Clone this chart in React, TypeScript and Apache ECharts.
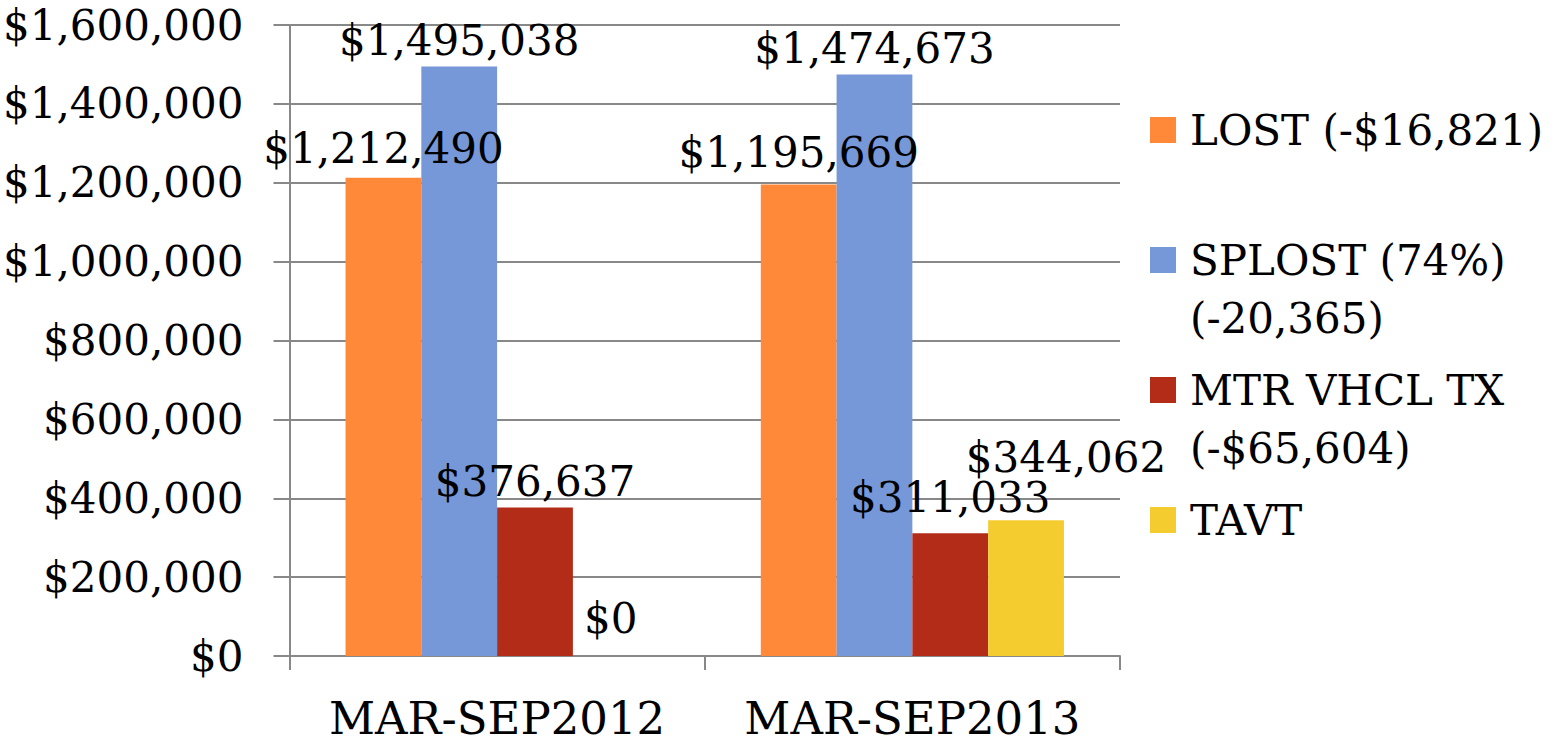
import React, { useEffect, useRef } from "react";
import * as echarts from "echarts";

const categories = ["MAR-SEP2012", "MAR-SEP2013"];
const seriesNames = ["LOST", "SPLOST", "MTR VHCL TX", "TAVT"];
const legendLabels = [
  "LOST (-$16,821)",
  "\nSPLOST (74%)\n(-20,365)",
  "\nMTR VHCL TX\n(-$65,604)",
  "TAVT",
];
const lostValues = [1212490, 1195669];
const splostValues = [1495038, 1474673];
const mtrValues = [376637, 311033];
const tavtValues = [0, 344062];
const yTicks = { min: 0, max: 1600000, interval: 200000 };

const colors = ["#FF8938", "#7698D8", "#B22C17", "#F4CC30"];
const FONT = "DejaVu Serif";
const FS = 42;

const money = (v: number) => "$" + Number(v).toLocaleString("en-US");

export default function App() {
  const ref = useRef<HTMLDivElement>(null);
  useEffect(() => {
    if (!ref.current) return;
    const chart = echarts.init(ref.current, null, { renderer: "svg" });
    const labelBase = {
      show: true,
      position: "top",
      distance: 5,
      fontFamily: FONT,
      fontSize: FS,
      color: "#000",
      formatter: (p: any) => money(p.value),
    };
    const allValues = [lostValues, splostValues, mtrValues, tavtValues];
    const offsets: number[][][] = [
      [[0, -3], [0, -6]],
      [[0, 0], [0, 0]],
      [[0, 0], [0, -10]],
      [[0, -12], [40, -37]],
    ];
    const series = allValues.map((vals, si) => ({
      name: seriesNames[si],
      type: "bar",
      barGap: "0%",
      barCategoryGap: "27%",
      itemStyle: { color: colors[si] },
      label: labelBase,
      data: vals.map((v, i) => ({
        value: v,
        label: { offset: offsets[si][i] },
      })),
    }));
    const legendCenters = [130, 260, 390, 520];
    const legends = seriesNames.map((n, i) => {
      const lines = legendLabels[i].split("\n").length;
      return {
        data: [n],
        orient: "vertical",
        left: 1150,
        top: legendCenters[i] - (lines * 58) / 2,
        padding: 0,
        itemWidth: 26,
        itemHeight: 26,
        icon: "rect",
        selectedMode: false,
        formatter: () => legendLabels[i],
        textStyle: {
          fontFamily: FONT,
          fontSize: FS,
          color: "#000",
          lineHeight: 58,
          padding: [0, 0, 0, 9],
        },
      };
    });
    chart.setOption({
      animation: false,
      color: colors,
      textStyle: { fontFamily: FONT },
      grid: { left: 289, right: 433, top: 25, bottom: 89, containLabel: false },
      legend: legends,
      xAxis: {
        type: "category",
        data: categories,
        axisLine: { show: true, lineStyle: { color: "#888888", width: 2 } },
        axisTick: { show: true, interval: 0, length: 14, lineStyle: { color: "#888888", width: 2 } },
        axisLabel: { interval: 0, hideOverlap: false, fontFamily: FONT, fontSize: 45, color: "#000", margin: 40 },
      },
      yAxis: {
        type: "value",
        min: yTicks.min,
        max: yTicks.max,
        interval: yTicks.interval,
        axisLine: { show: true, lineStyle: { color: "#888888", width: 2 } },
        axisTick: { show: true, length: 16, lineStyle: { color: "#888888", width: 2 } },
        splitLine: { show: true, lineStyle: { color: "#888888", width: 2 } },
        axisLabel: {
          fontFamily: FONT,
          fontSize: FS,
          color: "#000",
          margin: 46,
          formatter: (v: number) => money(v),
        },
      },
      series,
    });
    return () => chart.dispose();
  }, []);
  return (
    <div
      ref={ref}
      style={{ position: "fixed", left: 0, top: 0, width: 1553, height: 745, background: "#fff" }}
    />
  );
}
